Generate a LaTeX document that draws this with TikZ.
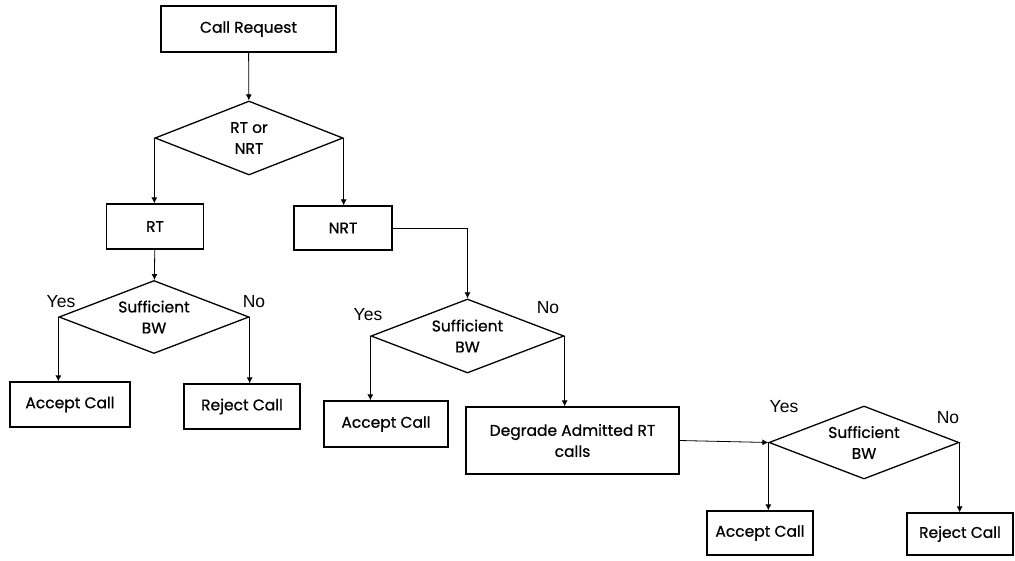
\documentclass[tikz,border=0pt]{standalone}
\usepackage{fontspec}
\setmainfont[FakeBold=0.7]{Poppins}
\newfontfamily\yesnofont{Liberation Sans}
\usetikzlibrary{shapes.geometric,arrows.meta}
\begin{document}
\begin{tikzpicture}[x=1pt,y=-1pt,
    box/.style={draw,line width=1.3pt,inner sep=0pt,align=center,
      font=\fontsize{15.5}{21}\selectfont},
    decision/.style={draw,diamond,aspect=2.5,line width=1.3pt,inner sep=0pt,
      align=center,font=\fontsize{15.5}{21}\selectfont},
    flow/.style={-{Latex[length=6pt,width=6pt]},line width=0.8pt},
    answer/.style={font=\yesnofont\fontsize{17.5}{20}\selectfont}]
  \useasboundingbox (0,0) rectangle (1015,560);
  \draw
    (248.5,29) node[box,minimum width=175pt,minimum height=46pt] (request){Call Request}
    (249,138) node[decision,minimum width=188pt,minimum height=74pt] (type){RT or\\NRT}
    (155,226.5) node[box,minimum width=97pt,minimum height=45pt] (rt){RT}
    (343,228) node[box,minimum width=98pt,minimum height=44pt] (nrt){NRT}
    (154,317) node[decision,minimum width=190pt,minimum height=73pt] (rtbw){Sufficient\\BW}
    (70,404.5) node[box,minimum width=120pt,minimum height=45pt] (rtaccept){Accept Call}
    (242,406.5) node[box,minimum width=116pt,minimum height=45pt] (rtreject){Reject Call}
    (467.5,336) node[decision,minimum width=193pt,minimum height=74pt] (nrtbw){Sufficient\\BW}
    (386,424) node[box,minimum width=124pt,minimum height=46pt] (nrtaccept){Accept Call}
    (572.5,440.5) node[box,minimum width=213pt,minimum height=67pt] (degrade){Degrade Admitted RT\\calls}
    (864,442.5) node[decision,minimum width=190pt,minimum height=73pt] (dgbw){Sufficient\\BW}
    (760,533) node[box,minimum width=106pt,minimum height=44pt] (dgaccept){Accept Call}
    (960,534) node[box,minimum width=106pt,minimum height=42pt] (dgreject){Reject Call};
  \draw
    (61,302) node[answer] (rtyes){Yes}
    (254,302) node[answer] (rtno){No}
    (368,315) node[answer] (nrtyes){Yes}
    (548,308) node[answer] (nrtno){No}
    (784,407) node[answer] (dgyes){Yes}
    (948,418) node[answer] (dgno){No};
  \begin{scope}[flow]
    \draw (request) to (type);
    \draw (type.west) to (type.west |- rt.north);
    \draw (type.east) to (type.east |- nrt.north);
    \draw (rt) to (rtbw);
    \draw (rtbw.west) to (rtbw.west |- rtaccept.north);
    \draw (rtbw.east) to (rtbw.east |- rtreject.north);
    \draw (nrt.east) -| (nrtbw.north);
    \draw (nrtbw.west) to (nrtbw.west |- nrtaccept.north);
    \draw (nrtbw.east) to (nrtbw.east |- degrade.north);
    \draw (degrade.east) to (dgbw.west);
    \draw (dgbw.west) to (dgbw.west |- dgaccept.north);
    \draw (dgbw.east) to (dgbw.east |- dgreject.north);
  \end{scope}
\end{tikzpicture}
\end{document}
